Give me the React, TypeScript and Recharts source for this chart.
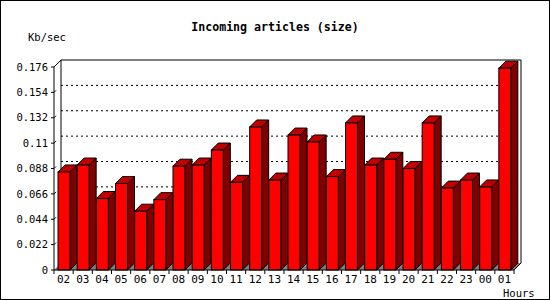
import React from "react";
import { BarChart, Bar, XAxis, YAxis, CartesianGrid } from "recharts";

const hours = [
  "02", "03", "04", "05", "06", "07", "08", "09", "10", "11", "12", "13",
  "14", "15", "16", "17", "18", "19", "20", "21", "22", "23", "00", "01",
];
const sizes = [
  0.085, 0.091, 0.062, 0.075, 0.051, 0.061, 0.09, 0.091, 0.104, 0.076, 0.124, 0.078,
  0.117, 0.111, 0.081, 0.1275, 0.091, 0.096, 0.088, 0.1275, 0.071, 0.078, 0.072, 0.175,
];
const yTicks = [0, 0.022, 0.044, 0.066, 0.088, 0.11, 0.132, 0.154, 0.176];

const data = hours.map((h, i) => ({ hour: h, size: sizes[i] }));

const W = 550;
const H = 300;
const LEFT = 54;
const RIGHT = 514;
const TOP = 67;
const BOTTOM = 270;
const DEPTH = 7;
const FONT = "'DejaVu Sans Mono', monospace";

const fmt = (v: number) => String(Number(v.toFixed(3)));

function Bar3D(props: any) {
  const { x, y, width, height } = props;
  if (height == null || height <= 0) return null;
  const d = DEPTH;
  return (
    <g stroke="#000" strokeWidth={1}>
      <polygon
        points={`${x + width},${y} ${x + width + d},${y - d} ${x + width + d},${y + height - d} ${x + width},${y + height}`}
        fill="#800000"
      />
      <polygon
        points={`${x},${y} ${x + d},${y - d} ${x + width + d},${y - d} ${x + width},${y}`}
        fill="#c00000"
      />
      <rect x={x} y={y} width={width} height={height} fill="#ff0000" />
    </g>
  );
}

function GridLine(props: any) {
  const { x1, x2, y1, index } = props;
  // bottom and top lines are the floor and back edge
  if (index === 0 || index === yTicks.length - 1) return <g key={props.key} />;
  return (
    <line
      key={props.key}
      x1={x1 + DEPTH}
      x2={x2 + DEPTH}
      y1={y1 - DEPTH}
      y2={y1 - DEPTH}
      stroke="#000"
      strokeDasharray="2 3"
    />
  );
}

function XTick(props: any) {
  const { x, payload, index } = props;
  const band = (RIGHT - LEFT) / hours.length;
  return (
    <g>
      <line x1={x - band / 2} x2={x - band / 2} y1={BOTTOM} y2={BOTTOM + 4} stroke="#000" />
      {index === hours.length - 1 && (
        <line x1={x + band / 2} x2={x + band / 2} y1={BOTTOM} y2={BOTTOM + 4} stroke="#000" />
      )}
      <text x={x} y={BOTTOM + 13} textAnchor="middle" fontSize={11} fontFamily={FONT} fill="#000">
        {payload.value}
      </text>
    </g>
  );
}

function Frame() {
  const d = DEPTH;
  const scaleY = (v: number) => BOTTOM - (v / 0.176) * (BOTTOM - TOP);
  return (
    <g>
      <polygon
        points={`${LEFT},${BOTTOM} ${LEFT + d},${BOTTOM - d} ${RIGHT + d},${BOTTOM - d} ${RIGHT},${BOTTOM}`}
        fill="#808080"
        stroke="none"
      />
      <polyline
        points={`${LEFT + d},${BOTTOM - d} ${LEFT + d},${TOP - d} ${RIGHT + d},${TOP - d} ${RIGHT + d},${BOTTOM - d} ${RIGHT},${BOTTOM}`}
        fill="none"
        stroke="#000"
      />
      <line x1={LEFT} y1={TOP} x2={LEFT + d} y2={TOP - d} stroke="#000" />
      {yTicks.slice(1, -1).map((t) => (
        <line key={t} x1={LEFT} y1={scaleY(t)} x2={LEFT + 2} y2={scaleY(t) - 2} stroke="#000" />
      ))}
    </g>
  );
}

function Labels() {
  return (
    <g fontFamily={FONT} fill="#000">
      <text x={275} y={31} textAnchor="middle" fontSize={11.6} fontWeight="bold">
        Incoming articles (size)
      </text>
      <text x={28} y={41} fontSize={10.5}>
        Kb/sec
      </text>
      <text x={503} y={297} fontSize={10.5}>
        Hours
      </text>
    </g>
  );
}

export default function App() {
  return (
    <div
      style={{
        position: "absolute",
        left: 0,
        top: 0,
        width: W,
        height: H,
        boxSizing: "border-box",
        border: "1px solid #000",
        background: "#fff",
      }}
    >
      <div style={{ position: "absolute", left: -1, top: -1 }}>
        <BarChart
          width={W}
          height={H}
          data={data}
          margin={{ top: TOP, right: W - RIGHT, bottom: 0, left: 0 }}
          barSize={12}
        >
          <Frame />
          <CartesianGrid horizontal={GridLine as any} vertical={false} />
          <XAxis
            dataKey="hour"
            height={H - BOTTOM}
            tickLine={false}
            axisLine={{ stroke: "#000" }}
            tick={<XTick />}
            interval={0}
          />
          <YAxis
            width={LEFT}
            domain={[0, 0.176]}
            ticks={yTicks}
            tickFormatter={fmt}
            tickSize={3}
            tickMargin={3}
            axisLine={{ stroke: "#000" }}
            tickLine={{ stroke: "#000" }}
            tick={{ fill: "#000", fontSize: 10.5, fontFamily: FONT }}
            interval={0}
          />
          <Bar dataKey="size" shape={<Bar3D />} isAnimationActive={false} />
          <Labels />
        </BarChart>
      </div>
    </div>
  );
}
